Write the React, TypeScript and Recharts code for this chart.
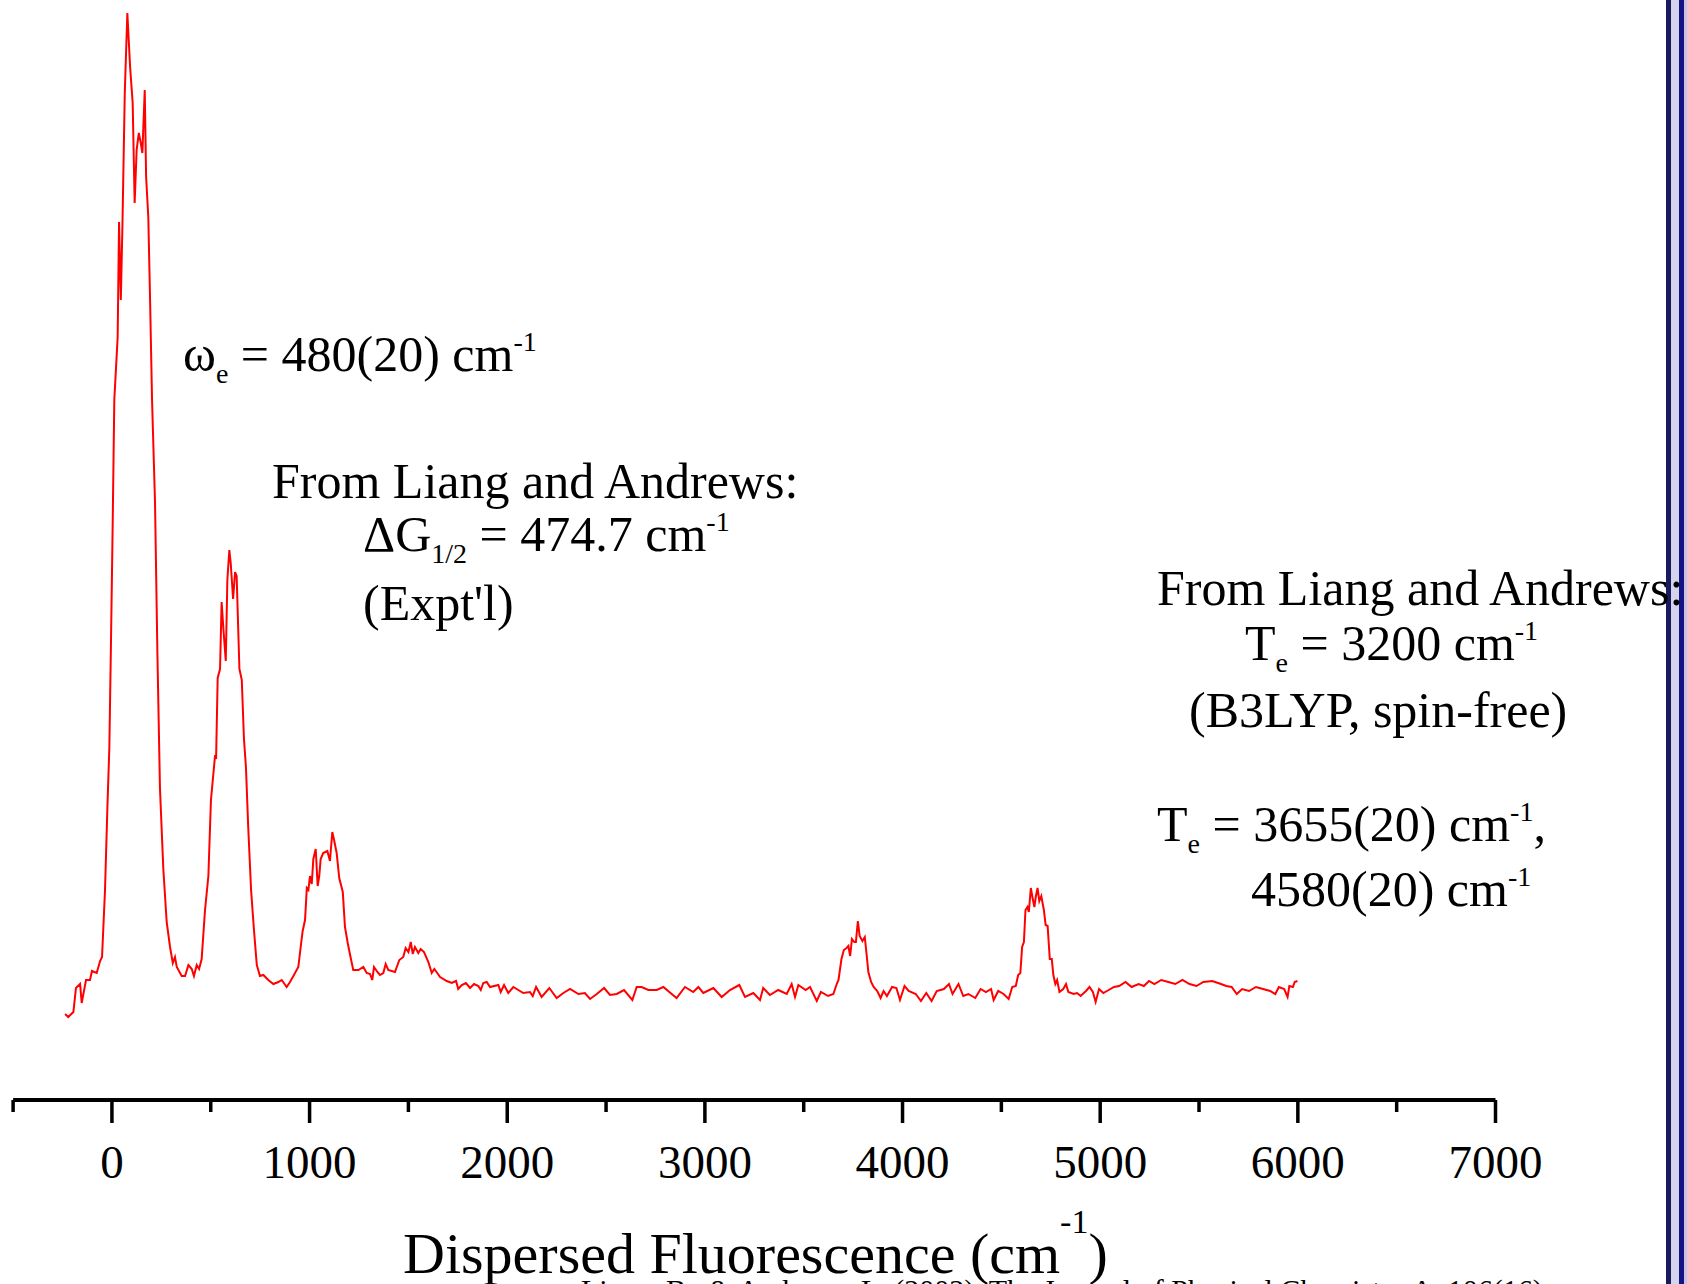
import React from 'react';
import { LineChart, Line, XAxis, YAxis } from 'recharts';

// Dispersed fluorescence spectrum: [wavenumber (cm-1), intensity (arb. units)]
const originBand: [number, number][] = [
  [-237, 8.6], [-221, 8.3], [-195, 8.8], [-182, 11.2], [-161, 11.6], [-153, 9.7], [-131, 12.0], [-111, 12.0],
  [-101, 12.9], [-77, 12.7], [-60, 13.9], [-50, 14.3], [-35, 21.0], [-23, 29.2], [-13, 35.3], [-5, 45.5],
  [4, 57.8], [12, 70.0], [29, 76.3], [36, 87.8], [45, 80.0], [53, 87.3], [65, 100.7], [78, 108.7],
  [92, 103.3], [105, 99.7], [115, 89.7], [125, 95.0], [136, 96.7], [146, 95.7], [154, 94.7], [166, 101.0],
  [173, 92.3], [184, 88.3], [193, 80.0], [203, 70.0], [218, 59.8], [230, 44.7], [243, 31.2], [260, 23.1],
  [277, 17.8], [294, 15.3], [308, 13.7], [319, 14.3], [328, 13.3], [353, 12.4], [370, 12.4], [387, 13.5],
  [404, 13.1], [415, 12.4], [429, 13.5], [441, 13.1], [454, 14.1],
];

const firstBand: [number, number][] = [
  [471, 19.0], [488, 22.4], [501, 30.0], [522, 34.5], [527, 34.1], [535, 42.2], [547, 43.1], [555, 49.8],
  [564, 47.1], [576, 43.9], [584, 52.0], [594, 55.0], [601, 53.7], [613, 50.1], [623, 52.8], [631, 52.4],
  [645, 43.1], [657, 42.0], [668, 36.1], [678, 33.3], [690, 27.1], [704, 21.0], [719, 16.9], [733, 13.5],
  [749, 12.4], [766, 12.5], [791, 12.0], [817, 11.6], [842, 11.8], [859, 12.0], [884, 11.3], [901, 11.8],
  [918, 12.4], [943, 13.3],
];

const secondBand: [number, number][] = [
  [955, 15.3], [965, 16.9], [977, 18.0], [986, 21.2], [994, 21.0], [1002, 22.4], [1011, 21.6], [1019, 24.1],
  [1031, 25.1], [1041, 21.4], [1049, 22.4], [1056, 24.1], [1069, 24.7], [1090, 24.9], [1103, 23.9], [1115, 26.8],
  [1125, 25.9], [1137, 24.7], [1150, 22.2], [1168, 20.8], [1179, 17.3], [1193, 15.7], [1205, 14.5],
];

const midRegion: [number, number][] = [
  [1221, 13.0], [1247, 13.0], [1272, 13.3], [1289, 12.7], [1306, 12.6], [1317, 12.0], [1326, 13.3], [1343, 12.8],
  [1356, 12.5], [1373, 12.7], [1385, 13.6], [1398, 13.0], [1432, 12.8], [1454, 14.0], [1474, 14.3], [1486, 15.2],
  [1500, 14.8], [1512, 15.8], [1522, 14.6], [1533, 15.3], [1550, 14.7], [1562, 15.1], [1579, 14.8], [1601, 13.8],
  [1618, 12.7], [1631, 13.1], [1646, 12.7], [1660, 12.3], [1694, 11.9], [1719, 11.7], [1741, 11.9], [1752, 11.1],
  [1770, 11.5], [1791, 11.7], [1812, 11.2], [1832, 11.6], [1854, 11.4], [1866, 11.0], [1879, 11.7], [1896, 11.8],
  [1913, 11.3], [1955, 11.5], [1967, 10.8], [1984, 11.5], [2005, 10.7], [2031, 11.3], [2056, 11.0], [2081, 10.7],
  [2115, 10.8], [2129, 10.4], [2146, 11.3], [2174, 10.3], [2213, 11.2], [2250, 10.2], [2284, 10.7], [2318, 11.1],
  [2360, 10.6], [2393, 10.7], [2419, 10.1], [2453, 10.6], [2490, 11.2], [2520, 10.5], [2554, 10.6], [2591, 11.0],
  [2633, 10.0], [2655, 11.3], [2680, 11.3], [2714, 11.0], [2756, 11.0], [2790, 11.3], [2832, 10.6], [2857, 10.2],
  [2899, 11.3], [2941, 10.8], [2967, 11.3], [2992, 10.7], [3043, 11.2], [3085, 10.3], [3127, 11.0], [3174, 11.5],
  [3203, 10.3], [3245, 10.7], [3279, 10.0], [3295, 11.2], [3329, 10.5], [3371, 11.0], [3414, 10.6], [3439, 11.6],
  [3456, 10.3], [3473, 11.5], [3510, 11.0], [3532, 11.3],
];

const band3655: [number, number][] = [
  [3566, 9.9], [3587, 10.8], [3623, 10.4], [3650, 10.6], [3667, 11.6], [3676, 12.0], [3691, 14.1], [3703, 15.0],
  [3717, 15.2], [3726, 15.4], [3735, 14.4], [3744, 16.1], [3756, 15.8], [3764, 15.8], [3774, 17.9], [3783, 16.4],
  [3797, 15.9], [3809, 16.3], [3819, 14.4], [3827, 12.8], [3841, 11.8], [3854, 11.3], [3872, 10.9], [3889, 10.2],
  [3904, 10.9], [3921, 10.4], [3947, 11.3], [3969, 11.2], [3987, 10.0], [4010, 11.4], [4031, 10.9], [4067, 10.6],
  [4093, 9.9], [4120, 10.7], [4147, 9.9], [4173, 10.9], [4209, 11.1], [4235, 11.6], [4253, 10.6], [4283, 11.6],
  [4307, 10.4], [4333, 10.6], [4368, 10.2], [4395, 11.1], [4422, 10.8], [4448, 11.1], [4461, 10.0], [4484, 10.9],
  [4511, 10.6], [4537, 10.1], [4555, 11.3], [4573, 11.4], [4585, 12.5], [4596, 12.7],
];

const band4580: [number, number][] = [
  [4605, 15.3], [4614, 15.8], [4622, 19.0], [4632, 19.3], [4639, 18.8], [4649, 21.2], [4658, 20.2], [4667, 19.3],
  [4674, 20.3], [4683, 21.2], [4692, 19.9], [4702, 20.4], [4715, 19.0], [4724, 17.5], [4734, 17.4], [4745, 14.1],
  [4755, 14.1], [4763, 12.5], [4773, 11.6], [4782, 12.0], [4794, 10.8], [4813, 11.1], [4827, 11.6], [4839, 10.8],
  [4866, 10.6], [4883, 10.7], [4901, 10.4], [4928, 10.9], [4946, 11.3], [4963, 10.8], [4977, 9.8], [4994, 11.1],
  [5016, 10.7], [5043, 11.0], [5070, 11.3], [5096, 11.4], [5128, 11.8], [5159, 11.3], [5194, 11.6], [5221, 11.4],
  [5247, 11.9], [5274, 11.6], [5309, 12.0], [5345, 11.8], [5380, 11.6], [5416, 12.0], [5452, 11.6], [5487, 11.4],
  [5522, 11.8], [5567, 11.9], [5611, 11.6], [5638, 11.4], [5665, 11.3], [5691, 10.6], [5718, 11.1], [5753, 10.9],
  [5788, 11.3], [5824, 11.1], [5860, 10.9], [5886, 10.6], [5904, 11.3], [5931, 11.1], [5948, 10.3], [5957, 11.4],
  [5975, 11.3], [5984, 11.8], [5998, 11.9],
];

const xTicks = [-500, 0, 500, 1000, 1500, 2000, 2500, 3000, 3500, 4000, 4500, 5000, 5500, 6000, 6500, 7000];
const xLabelled = [0, 1000, 2000, 3000, 4000, 5000, 6000, 7000];

const spectrum = [...originBand, ...firstBand, ...secondBand, ...midRegion, ...band3655, ...band4580].map(
  ([wn, I]) => ({ wn, I })
);

const W = 1687;
const H = 1284;
const FONT = '"Liberation Serif", "Times New Roman", serif';

function AxisTick(props: any) {
  const { x, y, payload } = props;
  const v = payload.value as number;
  const major = xLabelled.includes(v);
  return (
    <g>
      <line x1={x} x2={x} y1={y} y2={y + (major ? 23 : 12)} stroke="#000" strokeWidth={3.5} />
      {major && (
        <text x={x} y={y + 78} textAnchor="middle" fontFamily={FONT} fontSize={47} fill="#000">
          {v}
        </text>
      )}
    </g>
  );
}

function Overlay() {
  const sub = 28;
  return (
    <svg width={W} height={H} style={{ position: 'absolute', left: 0, top: 0, pointerEvents: 'none', overflow: 'hidden' }}>
      <rect x={1666} y={0} width={5} height={H} fill="#1a1a5e" />
      <rect x={1671} y={0} width={8} height={H} fill="#d4d4ec" />
      <rect x={1679} y={0} width={5} height={H} fill="#141484" />
      <rect x={1684} y={0} width={3} height={H} fill="#c4c4e4" />
      <g fontFamily={FONT} fill="#000">
        <text x={183} y={371} fontSize={50}>
          ω<tspan fontSize={sub} dy={12}>e</tspan>
          <tspan dy={-12}> = 480(20) cm</tspan>
          <tspan fontSize={sub} dy={-20}>-1</tspan>
        </text>

        <text x={272} y={498} fontSize={50}>From Liang and Andrews:</text>
        <text x={363} y={551} fontSize={50}>
          ΔG<tspan fontSize={sub} dy={12}>1/2</tspan>
          <tspan dy={-12}> = 474.7 cm</tspan>
          <tspan fontSize={sub} dy={-20}>-1</tspan>
        </text>
        <text x={363} y={620} fontSize={50}>(Expt'l)</text>

        <text x={1157} y={605} fontSize={50}>From Liang and Andrews:</text>
        <text x={1245} y={660} fontSize={50}>
          T<tspan fontSize={sub} dy={12}>e</tspan>
          <tspan dy={-12}> = 3200 cm</tspan>
          <tspan fontSize={sub} dy={-20}>-1</tspan>
        </text>
        <text x={1189} y={727} fontSize={50}>(B3LYP, spin-free)</text>
        <text x={1157} y={841} fontSize={50}>
          T<tspan fontSize={sub} dy={12}>e</tspan>
          <tspan dy={-12}> = 3655(20) cm</tspan>
          <tspan fontSize={sub} dy={-20}>-1</tspan>
          <tspan dy={20}>,</tspan>
        </text>
        <text x={1251} y={906} fontSize={50}>
          4580(20) cm<tspan fontSize={sub} dy={-20}>-1</tspan>
        </text>

        <text x={403} y={1273} fontSize={58}>
          Dispersed Fluorescence (cm<tspan fontSize={34} dy={-40}>-1</tspan>
          <tspan dy={40}>)</tspan>
        </text>
        <text x={581} y={1300} fontSize={30}>
          Liang, B., &amp; Andrews, L. (2002). The Journal of Physical Chemistry A, 106(16),
        </text>
      </g>
    </svg>
  );
}

export default function App() {
  return (
    <div style={{ position: 'absolute', left: 0, top: 0, width: W, height: H, overflow: 'hidden', background: '#fff' }}>
      <LineChart width={W} height={H} data={spectrum} margin={{ top: 0, right: 191.5, bottom: 84, left: 13.1 }}>
        <XAxis
          dataKey="wn"
          type="number"
          domain={[-500, 7000]}
          ticks={xTicks}
          interval={0}
          height={100}
          tickSize={0}
          tickMargin={0}
          tickLine={false}
          axisLine={{ stroke: '#000', strokeWidth: 4 }}
          tick={<AxisTick />}
          allowDataOverflow
        />
        <YAxis hide domain={[0, 110]} />
        <Line
          type="linear"
          dataKey="I"
          stroke="#ff0000"
          strokeWidth={2}
          dot={false}
          isAnimationActive={false}
        />
      </LineChart>
      <Overlay />
    </div>
  );
}
